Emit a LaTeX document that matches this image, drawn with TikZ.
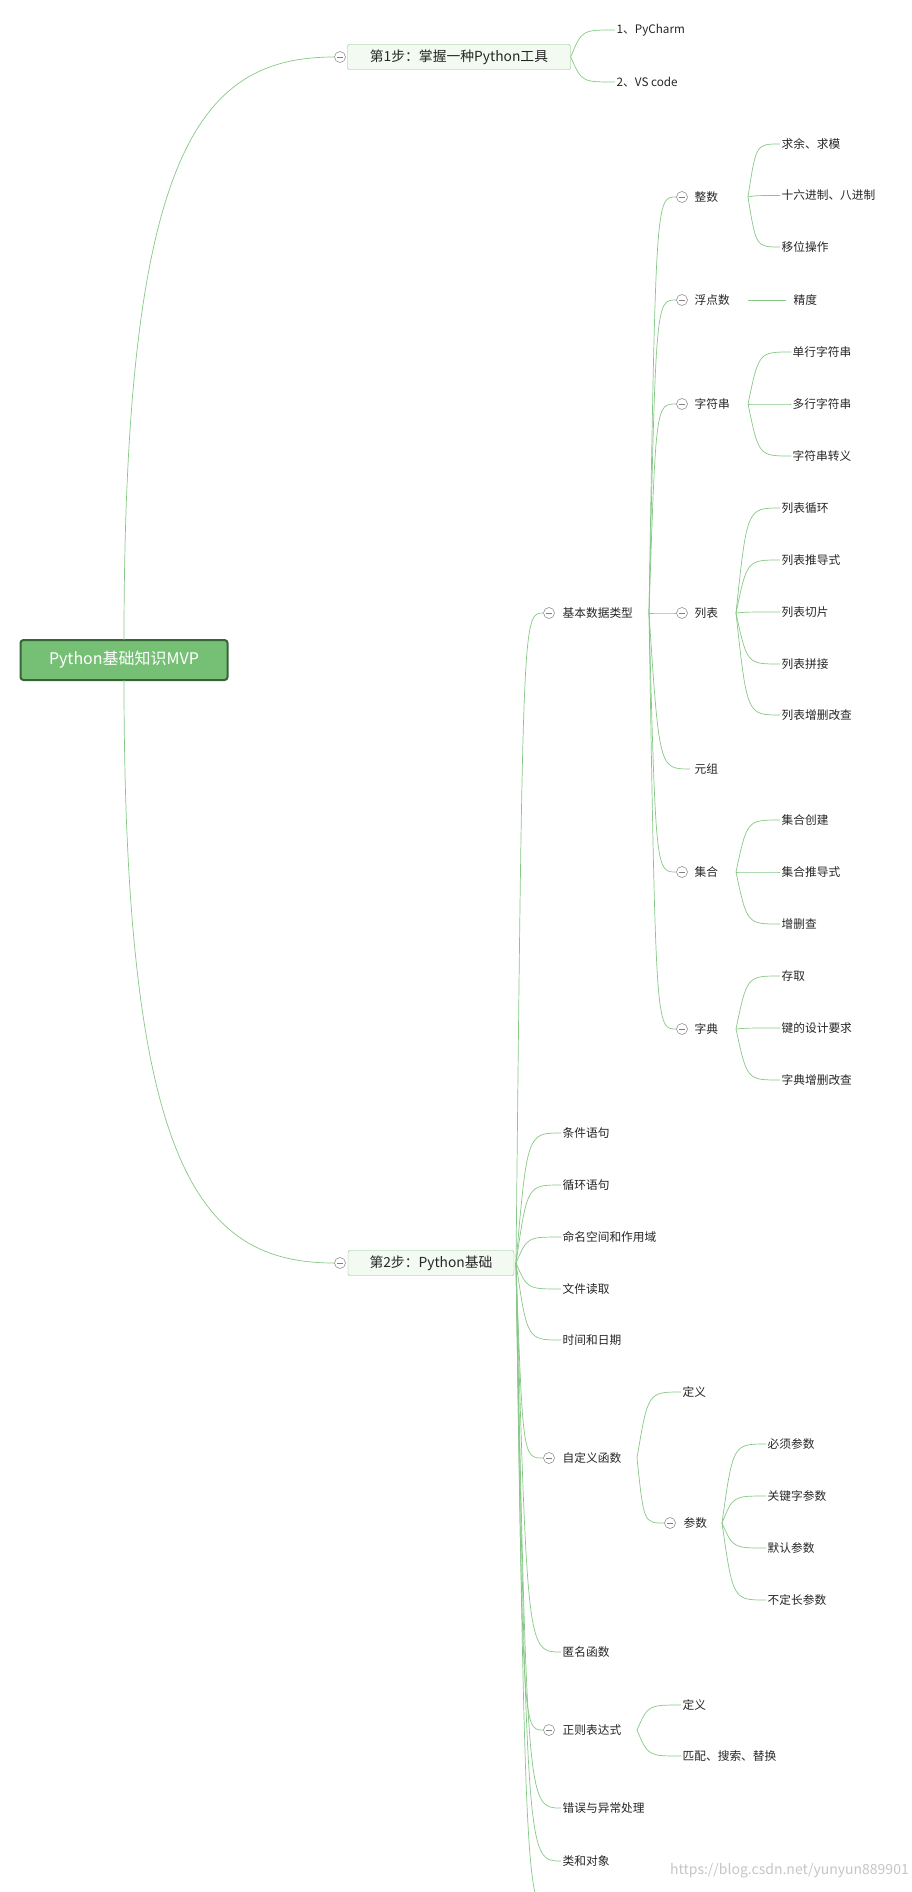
\documentclass[tikz,border=0pt]{standalone}
\usepackage{fontspec}
\setmainfont{Noto Sans CJK SC}
\usetikzlibrary{calc}
\definecolor{lg}{RGB}{135,200,135}
\definecolor{rootf}{RGB}{118,192,118}
\definecolor{rootd}{RGB}{55,100,55}
\definecolor{boxf}{RGB}{242,250,242}
\definecolor{boxd}{RGB}{130,195,130}
\newcommand\br[2]{\draw[brl] let \p1=(#1),\p2=(#2) in (\p1) .. controls ({0.75*\x1+0.25*\x2},\y2) .. (\p2);}
\begin{document}
\begin{tikzpicture}[x=1pt,y=-1pt,
  brl/.style={draw=lg,line width=0.7pt},
  lf/.style={anchor=west,inner sep=1.5pt,font=\fontsize{11.7}{13}\selectfont,text=black!85},
  cc/.style={circle,draw=gray,fill=white,minimum size=11pt,inner sep=0pt,line width=0.5pt,
    path picture={\draw[gray,line width=0.6pt] ([xshift=-3pt]path picture bounding box.center)--([xshift=3pt]path picture bounding box.center);}},
  stp/.style={draw=boxd,fill=boxf,rounded corners=2pt,minimum height=25pt,font=\fontsize{13.8}{15}\selectfont,text=black!85,inner xsep=6pt}]
\useasboundingbox[fill=white] (0,0) rectangle (911,1892);
% root
\node[draw=rootd,line width=2pt,fill=rootf,rounded corners=3pt,minimum width=207pt,minimum height=40pt,font=\fontsize{16}{18}\selectfont,text=white] (root) at (124,660) {Python基础知识MVP};
% step nodes
\node[stp,minimum width=223pt] (s1) at (459,57) {第1步：掌握一种Python工具};
\node[stp,minimum width=166pt] (s2) at (431,1263) {第2步：Python基础};
\node[cc] (s1c) at (340,57) {};
\node[cc] (s2c) at (340,1263) {};
\draw[brl] (124,640) .. controls (124,150) and (200,57) .. (s1c.west);
\draw[brl] (124,680) .. controls (124,1170) and (200,1263) .. (s2c.west);
% step1 children
\node[lf] (p1) at (615,30) {1、PyCharm};
\node[lf] (p2) at (615,82) {2、VS code};
\br{s1.east}{p1.west}\br{s1.east}{p2.west}
% step2 children
\coordinate (a2) at (516,1263);
\node[cc] (jbc) at (549,613) {};
\node[lf] (jb) at (561,613) {基本数据类型};
\node[lf] (c1) at (561,1133) {条件语句};
\node[lf] (c2) at (561,1185) {循环语句};
\node[lf] (c3) at (561,1237) {命名空间和作用域};
\node[lf] (c4) at (561,1289) {文件读取};
\node[lf] (c5) at (561,1340) {时间和日期};
\node[cc] (zdc) at (549,1458) {};
\node[lf] (zd) at (561,1458) {自定义函数};
\node[lf] (c7) at (561,1652) {匿名函数};
\node[cc] (zzc) at (549,1730) {};
\node[lf] (zz) at (561,1730) {正则表达式};
\node[lf] (c9) at (561,1808) {错误与异常处理};
\node[lf] (c10) at (561,1861) {类和对象};
\coordinate (c11) at (556,1915);
\foreach \k in {jbc,c1,c2,c3,c4,c5,zdc,c7,zzc,c9,c10}{\br{a2}{\k.west}}
\br{a2}{c11}
% basic types
\coordinate (a3) at (649,613);
\foreach \nm/\t/\yy/\c in {zs/整数/197/1,fd/浮点数/300/1,zf/字符串/404/1,lb/列表/613/1,yz/元组/769/0,jh/集合/872/1,zd2/字典/1029/1}{
  \ifnum\c=1 \node[cc] (\nm c) at (682,\yy) {};\br{a3}{\nm c.west}\else\coordinate (\nm c) at (690,\yy);\br{a3}{\nm c}\fi
  \node[lf] (\nm) at (693,\yy) {\t};
}
\coordinate (azs) at (748,197);
\node[lf] (z1) at (780,144) {求余、求模};
\node[lf] (z2) at (780,195.5) {十六进制、八进制};
\node[lf] (z3) at (780,247) {移位操作};
\foreach \k in {z1,z2,z3}{\br{azs}{\k.west}}
\coordinate (afd) at (748,300);
\node[lf] (f1) at (792,300) {精度};
\draw[brl] (afd) -- ([xshift=-6pt]f1.west);
\coordinate (azf) at (748,404);
\node[lf] (s1a) at (791,352) {单行字符串};
\node[lf] (s2a) at (791,404) {多行字符串};
\node[lf] (s3a) at (791,456) {字符串转义};
\foreach \k in {s1a,s2a,s3a}{\br{azf}{\k.west}}
\coordinate (alb) at (736,613);
\foreach \nm/\t/\yy in {l1/列表循环/508,l2/列表推导式/560,l3/列表切片/612,l4/列表拼接/664,l5/列表增删改查/715}{
  \node[lf] (\nm) at (780,\yy) {\t};\br{alb}{\nm.west}}
\coordinate (ajh) at (736,872);
\foreach \nm/\t/\yy in {j1/集合创建/820,j2/集合推导式/872,j3/增删查/924}{
  \node[lf] (\nm) at (780,\yy) {\t};\br{ajh}{\nm.west}}
\coordinate (azd) at (736,1029);
\foreach \nm/\t/\yy in {d1/存取/976,d2/键的设计要求/1028,d3/字典增删改查/1080}{
  \node[lf] (\nm) at (780,\yy) {\t};\br{azd}{\nm.west}}
% functions
\coordinate (afn) at (637,1458);
\node[lf] (fn1) at (681,1392) {定义};
\node[cc] (pmc) at (670,1523) {};
\node[lf] (pm) at (682,1523) {参数};
\br{afn}{fn1.west}\br{afn}{pmc.west}
\coordinate (apm) at (722,1523);
\foreach \nm/\t/\yy in {q1/必须参数/1444,q2/关键字参数/1496,q3/默认参数/1548,q4/不定长参数/1600}{
  \node[lf] (\nm) at (766,\yy) {\t};\br{apm}{\nm.west}}
% regex
\coordinate (are) at (637,1730);
\node[lf] (r1) at (681,1705) {定义};
\node[lf] (r2) at (681,1756) {匹配、搜索、替换};
\br{are}{r1.west}\br{are}{r2.west}
% watermark
\node[anchor=east,inner sep=0pt,text=gray!45,font=\fontsize{14}{16}\selectfont] (wm) at (909,1871) {https://blog.csdn.net/yunyun889901};
\end{tikzpicture}
\end{document}
